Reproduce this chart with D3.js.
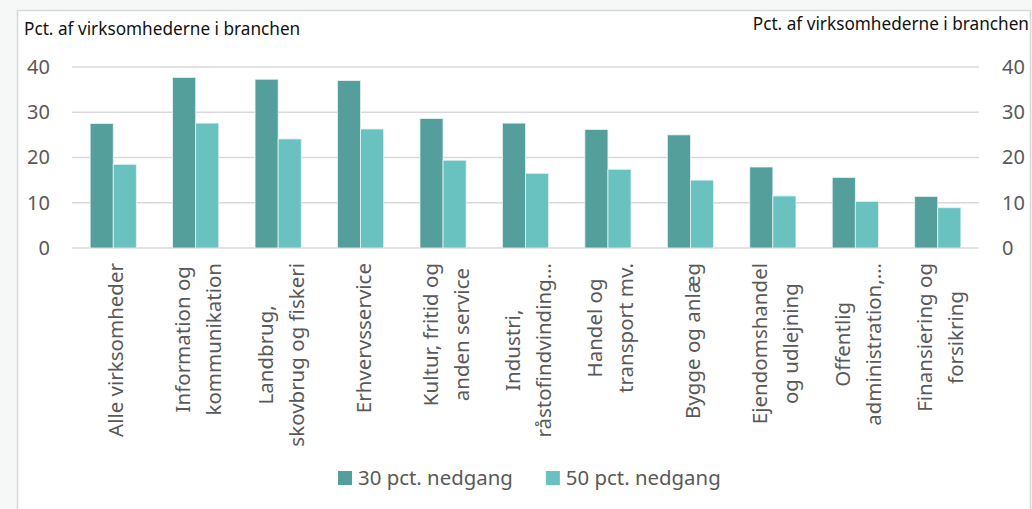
<!DOCTYPE html>
<html>
<head>
<meta charset="utf-8">
<script src="https://cdn.jsdelivr.net/npm/d3@7/dist/d3.min.js"></script>
<style>
    html, body { margin: 0; padding: 0; background: #f6f7f7; }
    svg { display: block; }
    text { font-family: "Noto Sans", "Open Sans", sans-serif; }
</style>
</head>
<body>
<svg id="chart" width="1032" height="509"></svg>
<script>
    // categories, one entry per label line
    var categories = [
        ['Alle virksomheder'],
        ['Information og', 'kommunikation'],
        ['Landbrug,', 'skovbrug og fiskeri'],
        ['Erhvervsservice'],
        ['Kultur, fritid og', 'anden service'],
        ['Industri,', 'råstofindvinding…'],
        ['Handel og', 'transport mv.'],
        ['Bygge og anlæg'],
        ['Ejendomshandel', 'og udlejning'],
        ['Offentlig', 'administration,…'],
        ['Finansiering og', 'forsikring']
    ];
    var series30 = [27.5, 37.7, 37.3, 37.0, 28.6, 27.6, 26.2, 25.0, 17.9, 15.6, 11.4];
    var series50 = [18.5, 27.6, 24.1, 26.3, 19.4, 16.5, 17.4, 15.0, 11.5, 10.3, 8.9];
    var seriesNames = ['30 pct. nedgang', '50 pct. nedgang'];
    var seriesColors = ['#549f9c', '#69c2bf'];
    var yTicks = [0, 10, 20, 30, 40];
    var axisTitle = 'Pct. af virksomhederne i branchen';

    var svg = d3.select('#chart'),
        plot = { left: 72, right: 979, top: 67, bottom: 248 },
        grey = '#595959';

    // white chart area
    svg.append('rect')
        .attr('x', 17.5).attr('y', 10.5)
        .attr('width', 1013).attr('height', 520)
        .attr('fill', '#fff').attr('stroke', '#d9d9d9').attr('stroke-width', 1.5);

    var x = d3.scaleBand()
        .domain(d3.range(categories.length))
        .range([plot.left, plot.right])
        .paddingInner(0.44).paddingOuter(0.22);

    var xSeries = d3.scaleBand()
        .domain(d3.range(seriesNames.length))
        .range([0, x.bandwidth()]);

    var y = d3.scaleLinear().domain([0, 40]).range([plot.bottom, plot.top]);

    // gridlines
    svg.append('g')
        .selectAll('line')
        .data(yTicks)
        .join('line')
        .attr('x1', plot.left).attr('x2', plot.right)
        .attr('y1', function (d) { return y(d); })
        .attr('y2', function (d) { return y(d); })
        .attr('stroke', '#d9d9d9').attr('stroke-width', 1.5);

    // left and right value axes
    var leftAxis = svg.append('g')
        .attr('transform', 'translate(50,0)')
        .call(d3.axisLeft(y).tickValues(yTicks).tickSize(0).tickPadding(0));
    var rightAxis = svg.append('g')
        .attr('transform', 'translate(1002,0)')
        .call(d3.axisRight(y).tickValues(yTicks).tickSize(0).tickPadding(0));

    [leftAxis, rightAxis].forEach(function (axis) {
        axis.select('.domain').remove();
        axis.selectAll('text')
            .attr('fill', grey)
            .style('font-size', '20px');
    });

    svg.append('text')
        .attr('x', 24).attr('y', 35)
        .attr('fill', '#111').style('font-size', '17.2px')
        .text(axisTitle);
    svg.append('text')
        .attr('x', 1029).attr('y', 30)
        .attr('text-anchor', 'end')
        .attr('fill', '#111').style('font-size', '17.2px')
        .text(axisTitle);

    // bars
    var seriesValues = [series30, series50];
    svg.append('g')
        .selectAll('g')
        .data(seriesValues)
        .join('g')
        .attr('fill', function (d, i) { return seriesColors[i]; })
        .each(function (values, s) {
            d3.select(this).selectAll('rect')
                .data(values)
                .join('rect')
                .attr('x', function (d, i) { return x(i) + xSeries(s); })
                .attr('y', function (d) { return y(d); })
                .attr('width', xSeries.bandwidth())
                .attr('height', function (d) { return y(0) - y(d); })
                .attr('stroke', '#e6f3f2').attr('stroke-width', 0.8);
        });

    // rotated category labels, lines centred on the longest one
    var labelTop = 263,
        lineGap = 31;
    var labels = svg.append('g')
        .selectAll('g')
        .data(categories)
        .join('g');

    labels.each(function (lines, i) {
        var g = d3.select(this),
            cx = x(i) + x.bandwidth() / 2,
            texts = g.selectAll('text')
                .data(lines)
                .join('text')
                .attr('text-anchor', 'middle')
                .attr('fill', grey)
                .style('font-size', '20.5px')
                .text(function (d) { return d; });

        var maxLen = d3.max(texts.nodes(), function (n) { return n.getComputedTextLength(); }),
            cy = labelTop + maxLen / 2;

        texts.attr('transform', function (d, k) {
            var bx = cx + 10 + (k - (lines.length - 1) / 2) * lineGap;
            return 'translate(' + bx + ',' + cy + ') rotate(-90)';
        });
    });

    // legend, centred under the plot
    var legend = svg.append('g'),
        legendX = 338;
    seriesNames.forEach(function (name, i) {
        var item = legend.append('g');
        item.append('rect')
            .attr('x', legendX).attr('y', 471)
            .attr('width', 14).attr('height', 14)
            .attr('fill', seriesColors[i]);
        var t = item.append('text')
            .attr('x', legendX + 20).attr('y', 485)
            .attr('fill', grey).style('font-size', '20.4px')
            .text(name);
        legendX += 20 + t.node().getComputedTextLength() + 33;
    });
</script>
</body>
</html>
